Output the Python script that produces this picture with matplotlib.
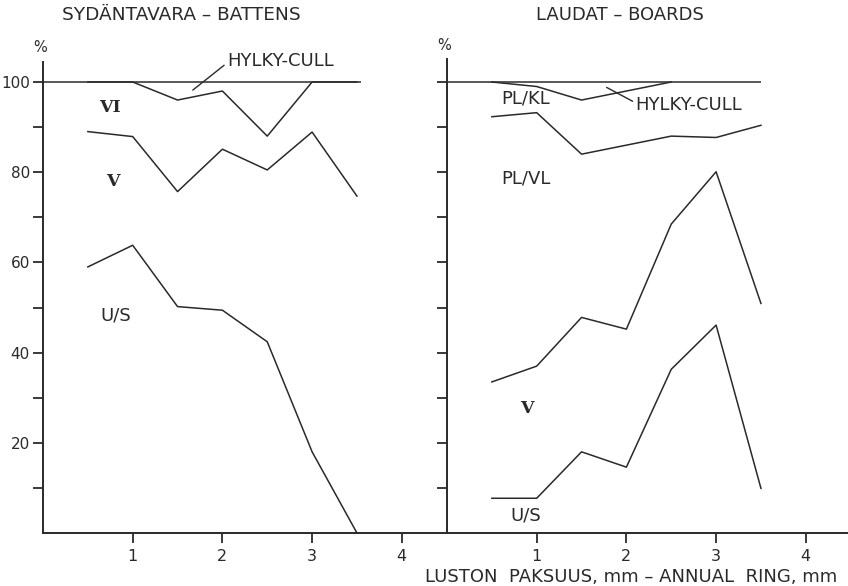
import matplotlib
matplotlib.use("Agg")
import matplotlib.pyplot as plt

# ---- data ----
x_ring = [0.5, 1.0, 1.5, 2.0, 2.5, 3.0, 3.5]

# Left panel: SYDÄNTAVARA - BATTENS (cumulative %)
bat_cull = [100, 100, 96, 98, 88, 100, 100]      # top of class VI (rest = cull)
bat_vi = [89.0, 87.9, 75.7, 85.1, 80.5, 88.9, 74.7]  # top of class V
bat_us = [59.0, 63.8, 50.2, 49.4, 42.4, 18.0, 0.0]   # top of U/S
bat_total_end = 3.55

# Right panel: LAUDAT - BOARDS (cumulative %)
brd_cull = [100, 99, 96, 98, 100, 100, 100]          # top of PL/KL
brd_kl = [92.3, 93.2, 84.0, 86.0, 88.0, 87.7, 90.4]   # top of PL/VL
brd_vl = [33.5, 37.0, 47.8, 45.2, 68.5, 80.1, 50.9]   # top of V
brd_us = [7.7, 7.7, 18.0, 14.6, 36.3, 46.1, 9.9]      # top of U/S
brd_total_end = 3.5

ytick_major = [20, 40, 60, 80, 100]
ytick_minor = [10, 30, 50, 70, 90]
xticks = [1, 2, 3, 4]

INK = "#2a2a2a"
plt.rcParams['font.family'] = ['DejaVu Sans']

W, H = 848, 586
fig = plt.figure(figsize=(W / 100, H / 100), dpi=100)
fig.patch.set_facecolor("white")

y0_px, ppu = 533.0, 4.51
ymax = 105
bottom = (H - y0_px) / H
height = (ymax * ppu) / H

axL = fig.add_axes([43 / W, bottom, 404 / W, height])
axR = fig.add_axes([447 / W, bottom, 401 / W, height])

for ax, xmax in ((axL, 404 / 89.7), (axR, 401 / 89.7)):
    ax.set_xlim(0, xmax)
    ax.set_ylim(0, ymax)
    ax.set_facecolor("none")
    for s in ("top", "right"):
        ax.spines[s].set_visible(False)
    for s in ("left", "bottom"):
        ax.spines[s].set_linewidth(1.4)
        ax.spines[s].set_color(INK)
    ax.set_xticks(xticks)
    ax.set_xticklabels([str(v) for v in xticks], fontsize=11.5, color=INK)
    ax.set_yticks(ytick_major)
    ax.set_yticks(ytick_minor, minor=True)
    ax.tick_params(axis="both", which="both", direction="out", length=7.5,
                   width=1.3, color=INK, pad=2)
    ax.tick_params(axis="x", pad=4)

axL.set_yticklabels([str(v) for v in ytick_major], fontsize=11, color=INK)
axR.set_yticklabels([])
axR.set_yticks(ytick_major + ytick_minor)
axL.spines["left"].set_bounds(0, 104.5)
axR.spines["left"].set_bounds(0, 105)

lw = 1.1
# Left lines
axL.hlines(100, 0, bat_total_end, color=INK, lw=lw)
axL.plot(x_ring, bat_cull, color=INK, lw=lw)
axL.plot(x_ring, bat_vi, color=INK, lw=lw)
axL.plot(x_ring, bat_us, color=INK, lw=lw)

# Right lines
axR.hlines(100, 0, brd_total_end, color=INK, lw=lw)
axR.plot(x_ring[:5], brd_cull[:5], color=INK, lw=lw)
axR.plot(x_ring, brd_kl, color=INK, lw=lw)
axR.plot(x_ring, brd_vl, color=INK, lw=lw)
axR.plot(x_ring, brd_us, color=INK, lw=lw)

fs = 13
# Left labels
axL.annotate("HYLKY-CULL", xy=(1.67, 98.2), xytext=(2.05, 104.6),
             fontsize=fs, color=INK, ha="left", va="center",
             arrowprops=dict(arrowstyle="-", color=INK, lw=1.0,
                             shrinkA=0, shrinkB=0, relpos=(0, 0.4)))
roman = dict(family="DejaVu Serif", fontweight="bold", color=INK, fontsize=12.5,
             ha="center", va="center")
axL.text(0.75, 94.3, "VI", **roman)
axL.text(0.78, 78.0, "V", **roman)
axL.text(0.81, 48.2, "U/S", fontsize=fs, color=INK, ha="center", va="center")

# Right labels
axR.annotate("HYLKY-CULL", xy=(1.78, 98.8), xytext=(2.1, 95.0),
             fontsize=fs, color=INK, ha="left", va="center",
             arrowprops=dict(arrowstyle="-", color=INK, lw=1.0,
                             shrinkA=0, shrinkB=0, relpos=(0, 0.6)))
axR.text(0.6, 96.3, "PL/KL", fontsize=fs, color=INK, ha="left", va="center")
axR.text(0.6, 78.5, "PL/VL", fontsize=fs, color=INK, ha="left", va="center")
axR.text(0.89, 27.5, "V", **roman)
axR.text(0.88, 3.8, "U/S", fontsize=fs, color=INK, ha="center", va="center")

# Titles and units
fig.text(62 / W, 1 - 15 / H, "SYDÄNTAVARA – BATTENS", fontsize=13.3, color=INK,
         ha="left", va="center")
fig.text(536 / W, 1 - 15 / H, "LAUDAT – BOARDS", fontsize=13, color=INK,
         ha="left", va="center")
fig.text(40 / W, 1 - 48 / H, "%", fontsize=10.5, color=INK, ha="center", va="center")
fig.text(444 / W, 1 - 45 / H, "%", fontsize=10.5, color=INK, ha="center", va="center")
fig.text(837 / W, 1 - 577 / H, "LUSTON  PAKSUUS, mm – ANNUAL  RING, mm",
         fontsize=13, color=INK, ha="right", va="center")

fig.savefig("out.png", dpi=100, facecolor="white")
